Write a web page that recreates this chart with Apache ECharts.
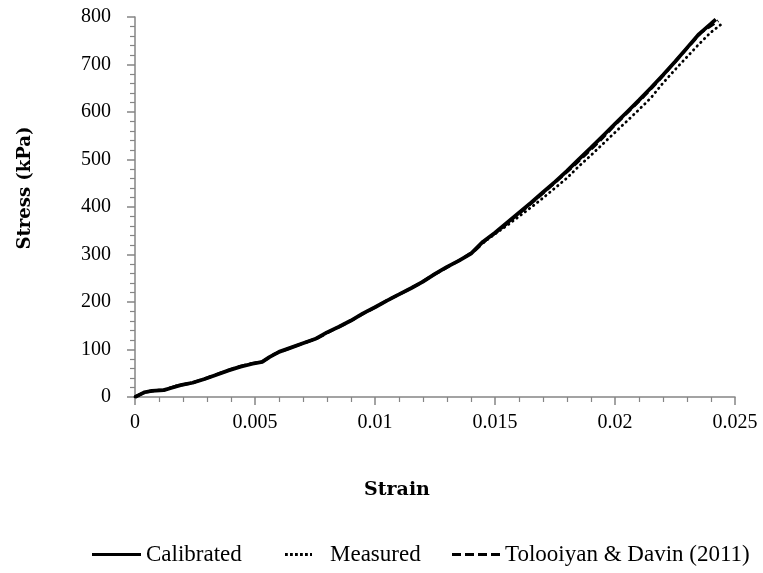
<!DOCTYPE html>
<html>
<head>
<meta charset="utf-8">
<script src="https://cdn.jsdelivr.net/npm/echarts@6/dist/echarts.min.js"></script>
<style>
  html, body { margin: 0; padding: 0; background: #ffffff; }
  #chart { width: 763px; height: 573px; }
</style>
</head>
<body>
<div id="chart"></div>
<script>
// Stress–strain curves: calibrated model, laboratory measurement, and the published reference curve
const calibratedStrain = [0, 0.0002, 0.0004, 0.0007, 0.0012, 0.0015, 0.0019, 0.0024, 0.0029, 0.0034, 0.0039, 0.0044, 0.0049, 0.0053, 0.0056, 0.0060, 0.0065, 0.0070, 0.0075, 0.0080, 0.0085, 0.0090, 0.0095, 0.0100, 0.0105, 0.0110, 0.0115, 0.0120, 0.0125, 0.0130, 0.0135, 0.0140, 0.0145, 0.0150, 0.0155, 0.0160, 0.0165, 0.0170, 0.0175, 0.0180, 0.0185, 0.0190, 0.0195, 0.0200, 0.0205, 0.0210, 0.0215, 0.0220, 0.0225, 0.0230, 0.0235, 0.0240, 0.0242];
const calibratedStress = [0, 5, 10, 13, 14.5, 19, 25, 30, 38, 47, 56, 64, 70, 74, 84, 95, 104, 113, 122, 136, 148, 161, 176, 189, 203, 216, 229, 243, 259, 274, 287, 302, 327, 346, 367, 388, 409, 431, 453, 476, 501, 525, 550, 575, 600, 625, 651, 678, 706, 735, 764, 786, 795];

const measuredStrain = [0, 0.0002, 0.0004, 0.0007, 0.0012, 0.0015, 0.0019, 0.0024, 0.0029, 0.0034, 0.0039, 0.0044, 0.0049, 0.0053, 0.0056, 0.0060, 0.0065, 0.0070, 0.0075, 0.0080, 0.0085, 0.0090, 0.0095, 0.0100, 0.0105, 0.0110, 0.0115, 0.0120, 0.0125, 0.0130, 0.0135, 0.0140, 0.0145, 0.0150, 0.0155, 0.0160, 0.0165, 0.0170, 0.0175, 0.0180, 0.0185, 0.0190, 0.0195, 0.0200, 0.0205, 0.0210, 0.0215, 0.0220, 0.0225, 0.0230, 0.0235, 0.0240, 0.02444];
const measuredStress = [0, 5, 10, 13, 14.5, 19, 25, 30, 38, 47, 56, 64, 70, 74, 84, 95, 104, 113, 122, 136, 148, 161, 176, 189, 203, 216, 229, 243, 259, 274, 287, 302, 325, 343, 361, 380, 399, 419, 440, 461, 486, 509, 533, 557, 581, 605, 630, 661, 689, 716, 743, 768, 785];

const referenceStrain = [0, 0.0004, 0.0008, 0.0012, 0.0017, 0.0024, 0.0030, 0.0036, 0.0042, 0.0048, 0.0053, 0.0058, 0.0064, 0.0070, 0.0076, 0.0082, 0.0088, 0.0094, 0.0100, 0.0106, 0.0112, 0.0118, 0.0124, 0.0130, 0.0136, 0.0142, 0.0147, 0.0152, 0.0158, 0.0164, 0.0170, 0.0176, 0.0182, 0.0188, 0.0194, 0.0200, 0.0206, 0.0212, 0.0218, 0.0224, 0.0230, 0.0236, 0.0243];
const referenceStress = [0, 10, 13.5, 15, 23, 30, 40, 51, 62, 70, 74, 90, 102, 113, 124, 140, 155, 172, 189, 206, 221, 237, 256, 273, 290, 310, 334, 352, 378, 403, 429, 456, 483, 512, 541, 573, 603, 633, 665, 700, 734, 768, 792];

const xTicks = { min: 0, max: 0.025, step: 0.005 };
const yTicks = { min: 0, max: 800, step: 100 };

const seriesNames = ['Calibrated', 'Measured', 'Tolooiyan & Davin (2011)'];

function pairs(xs, ys) {
  return xs.map((x, i) => [x, ys[i]]);
}

// Legend swatches drawn as small paths: a bar, a row of dots, a row of dashes
function barPath(len, h) {
  return 'path://M0,0 L' + len + ',0 L' + len + ',' + h + ' L0,' + h + ' Z';
}
function segmentPath(len, seg, gap, h) {
  let d = '';
  for (let x = 0; x < len - 0.01; x += seg + gap) {
    const w = Math.min(seg, len - x);
    d += 'M' + x + ',0 L' + (x + w) + ',0 L' + (x + w) + ',' + h + ' L' + x + ',' + h + ' Z ';
  }
  return 'path://' + d;
}

const tickFont = 'Liberation Serif';
const titleFont = 'DejaVu Serif';
const axisGrey = '#858585';

const legendText = { fontFamily: tickFont, fontSize: 23, color: '#000' };
const legendTop = 543;

const option = {
  animation: false,
  backgroundColor: '#ffffff',
  grid: { left: 135, right: 28, top: 17, bottom: 176, containLabel: false },
  xAxis: {
    type: 'value',
    min: xTicks.min, max: xTicks.max, interval: xTicks.step,
    name: 'Strain',
    nameLocation: 'middle',
    nameGap: 84,
    nameTextStyle: { fontFamily: titleFont, fontWeight: 'bold', fontSize: 19, color: '#000', padding: [0, 76, 0, 0] },
    axisLine: { show: true, lineStyle: { color: axisGrey, width: 1.5 } },
    axisTick: { show: true, length: 8, lineStyle: { color: axisGrey, width: 1.5 } },
    minorTick: { show: true, splitNumber: 5, length: 5, lineStyle: { color: axisGrey, width: 1.2 } },
    splitLine: { show: false },
    axisLabel: {
      margin: 16, fontFamily: tickFont, fontSize: 20, color: '#000',
      formatter: v => String(parseFloat(v.toFixed(3)))
    }
  },
  yAxis: {
    type: 'value',
    min: yTicks.min, max: yTicks.max, interval: yTicks.step,
    name: 'Stress (kPa)',
    nameLocation: 'middle',
    nameGap: 101,
    nameTextStyle: { fontFamily: titleFont, fontWeight: 'bold', fontSize: 18, color: '#000', padding: [0, 0, 0, 38] },
    axisLine: { show: true, lineStyle: { color: axisGrey, width: 1.5 } },
    axisTick: { show: true, length: 8, lineStyle: { color: axisGrey, width: 1.5 } },
    minorTick: { show: true, splitNumber: 5, length: 5, lineStyle: { color: axisGrey, width: 1.2 } },
    splitLine: { show: false },
    axisLabel: { margin: 24, fontFamily: tickFont, fontSize: 20, color: '#000' }
  },
  legend: [
    {
      data: [{ name: seriesNames[0], icon: barPath(50, 3.2) }],
      left: 92, top: legendTop, padding: 0,
      itemWidth: 49, itemHeight: 14,
      itemStyle: { color: '#000', borderWidth: 0 },
      textStyle: legendText, selectedMode: false
    },
    {
      data: [{ name: seriesNames[1], icon: segmentPath(27, 2.8, 2.2, 2.8) }],
      left: 285, top: legendTop, padding: 0,
      itemWidth: 27, itemHeight: 14,
      itemStyle: { color: '#000', borderWidth: 0 },
      textStyle: Object.assign({}, legendText, { padding: [0, 0, 0, 13] }), selectedMode: false
    },
    {
      data: [{ name: seriesNames[2], icon: segmentPath(48, 9, 4, 3) }],
      left: 452, top: legendTop, padding: 0,
      itemWidth: 48, itemHeight: 14,
      itemStyle: { color: '#000', borderWidth: 0 },
      textStyle: legendText, selectedMode: false
    }
  ],
  series: [
    {
      name: seriesNames[1], type: 'line', symbol: 'none', smooth: false,
      data: pairs(measuredStrain, measuredStress),
      lineStyle: { color: '#000', width: 2.8, type: [0.4, 4.8], cap: 'round' },
      itemStyle: { color: '#000' }, z: 2
    },
    {
      name: seriesNames[2], type: 'line', symbol: 'none', smooth: false,
      data: pairs(referenceStrain, referenceStress),
      lineStyle: { color: '#000', width: 3, type: [8, 4] },
      itemStyle: { color: '#000' }, z: 3
    },
    {
      name: seriesNames[0], type: 'line', symbol: 'none', smooth: false,
      data: pairs(calibratedStrain, calibratedStress),
      lineStyle: { color: '#000', width: 3.8 },
      itemStyle: { color: '#000' }, z: 4
    }
  ]
};

const chart = echarts.init(document.getElementById('chart'), null, { renderer: 'canvas' });
chart.setOption(option);
</script>
</body>
</html>
